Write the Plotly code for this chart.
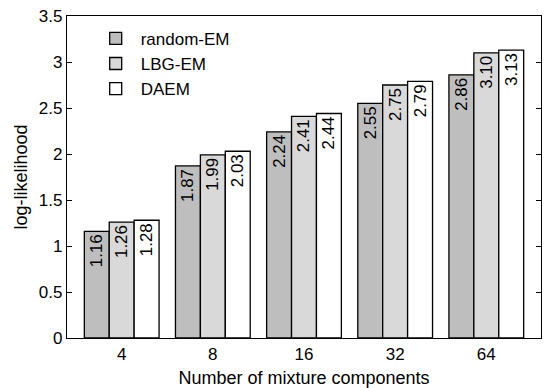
import plotly.graph_objects as go

categories = ["4", "8", "16", "32", "64"]
random_em = [1.16, 1.87, 2.24, 2.55, 2.86]
lbg_em = [1.26, 1.99, 2.41, 2.75, 3.10]
daem = [1.28, 2.03, 2.44, 2.79, 3.13]
series_names = ["random-EM", "LBG-EM", "DAEM"]
colors = ["#bebebe", "#d9d9d9", "#ffffff"]
y_ticks = [0, 0.5, 1, 1.5, 2, 2.5, 3, 3.5]
y_tick_labels = ["0", "0.5", "1", "1.5", "2", "2.5", "3", "3.5"]

FONT = "Liberation Sans, Arial, Helvetica, sans-serif"

fig = go.Figure()
for name, vals, col in zip(series_names, [random_em, lbg_em, daem], colors):
    fig.add_trace(go.Bar(
        x=categories, y=vals, name=name,
        marker=dict(color=col, line=dict(color="black", width=1.3)),
        text=[f"{v:.2f}" for v in vals],
        textposition="inside", insidetextanchor="end", textangle=-90,
        textfont=dict(family=FONT, size=17, color="black"),
        cliponaxis=False,
    ))

fig.update_layout(
    width=550, height=388,
    margin=dict(l=67, r=9, t=16, b=50),
    paper_bgcolor="white", plot_bgcolor="white",
    barmode="group", bargap=0.18, bargroupgap=0,
    font=dict(family=FONT, size=17, color="black"),
    showlegend=True,
    legend=dict(x=0.05, y=0.985, xanchor="left", yanchor="top",
                bgcolor="rgba(255,255,255,0)", borderwidth=0,
                font=dict(size=17), itemwidth=40),
    uniformtext=dict(mode=False),
)
fig.update_xaxes(
    type="category", range=[-0.6, 4.6], automargin=False,
    showline=True, linecolor="black", linewidth=1.2, mirror=True,
    ticks="", showgrid=False,
    title=dict(text="Number of mixture components", font=dict(size=18), standoff=8),
    tickfont=dict(size=17),
)
fig.update_yaxes(
    range=[0, 3.5], tickvals=y_ticks, ticktext=y_tick_labels, automargin=False,
    showline=True, linecolor="black", linewidth=1.2, mirror="ticks",
    ticks="inside", ticklen=5, tickcolor="black", showgrid=False, zeroline=False,
    title=dict(text="log-likelihood", font=dict(size=18), standoff=6),
    tickfont=dict(size=17),
)

fig.write_html("out.html", config={"displayModeBar": False},
               post_script="document.body.style.margin='0';")
